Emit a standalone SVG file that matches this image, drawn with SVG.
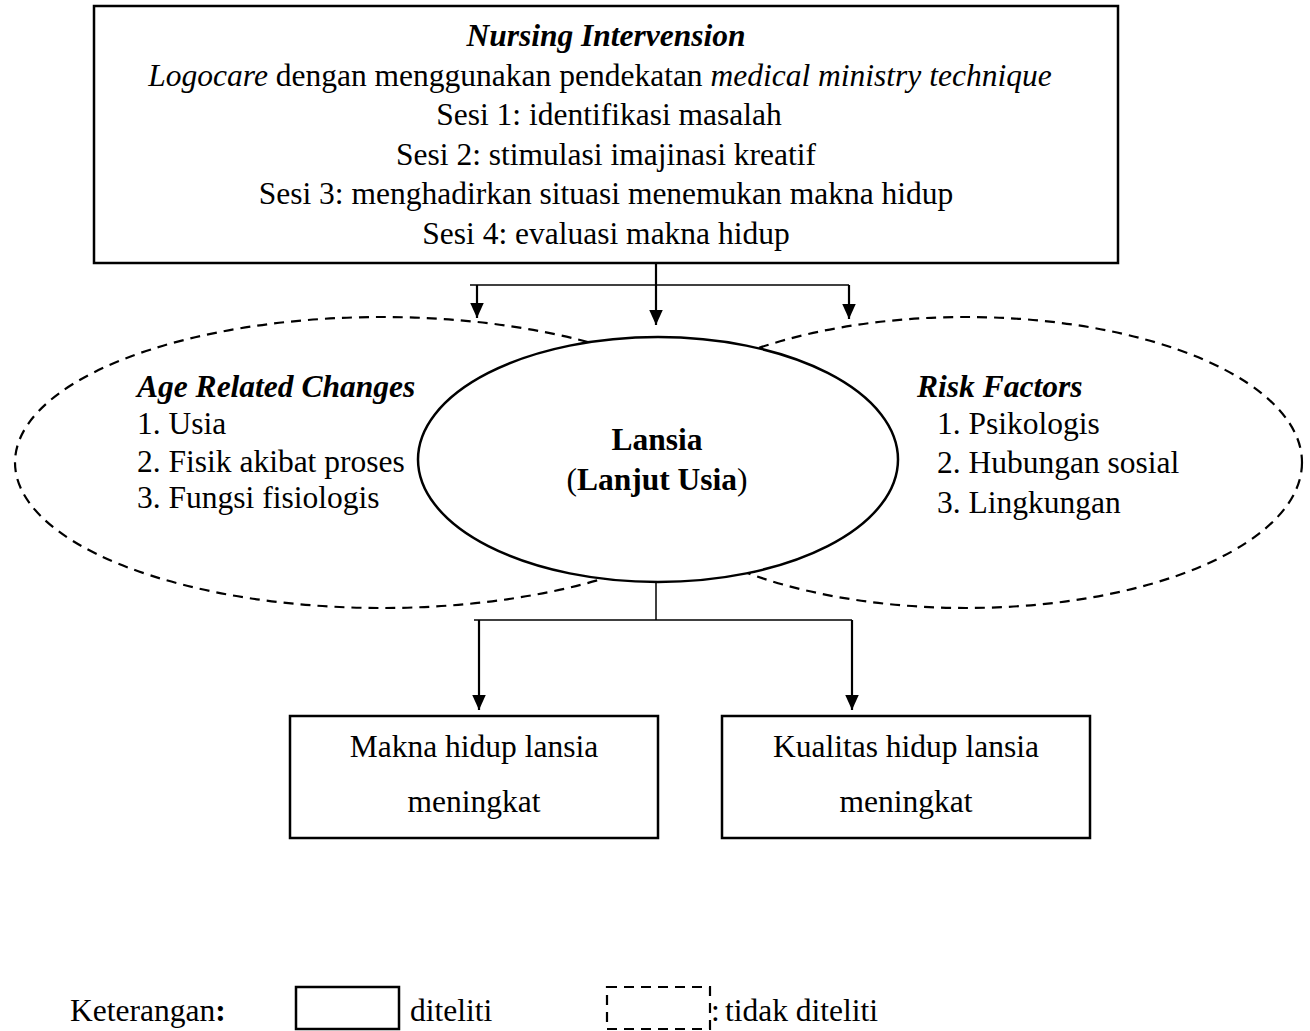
<svg xmlns="http://www.w3.org/2000/svg" width="1310" height="1031" viewBox="0 0 1310 1031">
<style>
text{font-family:"Liberation Serif","Times New Roman",serif;font-size:31.5px;fill:#000}
.c{text-anchor:middle}
.b{font-weight:bold}
.i{font-style:italic}
.box{fill:#fff;stroke:#000;stroke-width:2.5}
.dash{fill:none;stroke:#000;stroke-width:2.2;stroke-dasharray:10 7}
.ln{fill:none;stroke:#000;stroke-width:2.2}
.ln1{fill:none;stroke:#000;stroke-width:1.5}
</style>
<defs>
<marker id="ah" viewBox="0 0 10 10" refX="10" refY="5" markerWidth="15" markerHeight="15" markerUnits="userSpaceOnUse" orient="auto">
<path d="M0,0.5 L10,5 L0,9.5 Z" fill="#000"/>
</marker>
</defs>
<g id="intervention">
<rect class="box" x="94" y="6" width="1024" height="257"/>
<text class="c b i" x="606" y="46">Nursing Intervension</text>
<text class="c" x="600" y="86"><tspan class="i">Logocare</tspan> dengan menggunakan pendekatan <tspan class="i">medical ministry technique</tspan></text>
<text class="c" x="609" y="125">Sesi 1: identifikasi masalah</text>
<text class="c" x="606" y="165">Sesi 2: stimulasi imajinasi kreatif</text>
<text class="c" x="606" y="204">Sesi 3: menghadirkan situasi menemukan makna hidup</text>
<text class="c" x="606" y="244">Sesi 4: evaluasi makna hidup</text>
</g>
<g id="age-related">
<ellipse class="dash" cx="382" cy="462.5" rx="367" ry="145.5"/>
<text class="b i" x="137" y="397">Age Related Changes</text>
<text x="137" y="434">1. Usia</text>
<text x="137" y="472">2. Fisik akibat proses</text>
<text x="137" y="508">3. Fungsi fisiologis</text>
</g>
<g id="risk-factors">
<ellipse class="dash" cx="966" cy="462.5" rx="336" ry="145.5"/>
<text class="b i" x="917" y="397">Risk Factors</text>
<text x="937" y="434">1. Psikologis</text>
<text x="937" y="473">2. Hubungan sosial</text>
<text x="937" y="513">3. Lingkungan</text>
</g>
<g id="lansia">
<ellipse cx="658" cy="459.5" rx="240" ry="122.5" fill="#fff" stroke="#000" stroke-width="2.5"/>
<text class="c b" x="657" y="450">Lansia</text>
<text class="c" x="657" y="490">(<tspan class="b">Lanjut Usia</tspan>)</text>
</g>
<g id="makna">
<rect class="box" x="290" y="716" width="368" height="122"/>
<text class="c" x="474" y="757">Makna hidup lansia</text>
<text class="c" x="474" y="812">meningkat</text>
</g>
<g id="kualitas">
<rect class="box" x="722" y="716" width="368" height="122"/>
<text class="c" x="906" y="757">Kualitas hidup lansia</text>
<text class="c" x="906" y="812">meningkat</text>
</g>
<g id="connectors">
<line class="ln" x1="656" y1="263" x2="656" y2="325" marker-end="url(#ah)"/>
<line class="ln1" x1="470" y1="285" x2="849" y2="285"/>
<line class="ln" x1="477" y1="285" x2="477" y2="318" marker-end="url(#ah)"/>
<line class="ln" x1="849" y1="285" x2="849" y2="319" marker-end="url(#ah)"/>
<line class="ln1" x1="656" y1="582" x2="656" y2="620"/>
<line class="ln1" x1="474" y1="620" x2="852" y2="620"/>
<line class="ln" x1="479" y1="620" x2="479" y2="710" marker-end="url(#ah)"/>
<line class="ln" x1="852" y1="620" x2="852" y2="710" marker-end="url(#ah)"/>
</g>
<g id="legend">
<text x="70" y="1021">Keterangan<tspan class="b">:</tspan></text>
<rect class="box" x="296" y="987" width="103" height="42"/>
<text x="410" y="1021">diteliti</text>
<rect class="dash" x="607" y="987" width="103" height="42"/>
<text x="711" y="1021">:</text>
<text x="725" y="1021">tidak diteliti</text>
</g>
</svg>
